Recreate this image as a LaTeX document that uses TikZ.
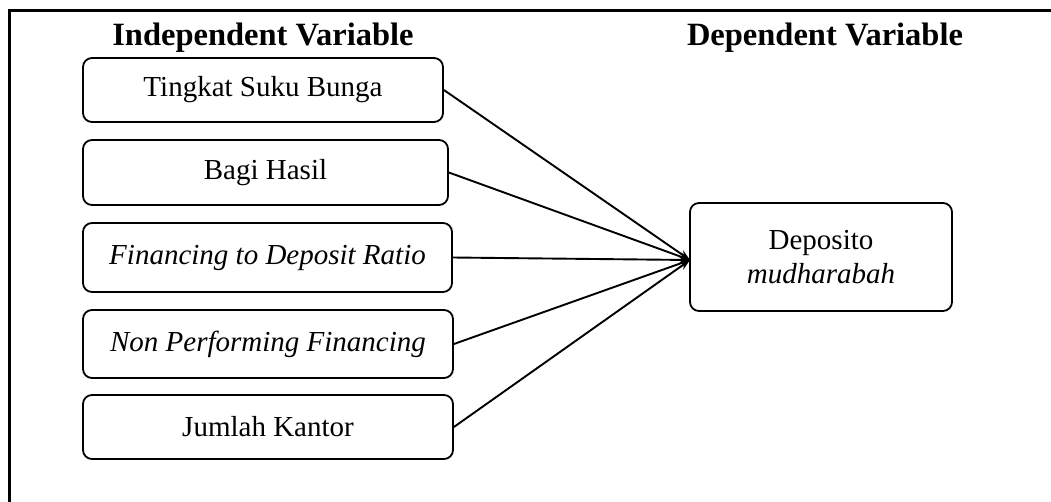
\documentclass[tikz,border=0pt]{standalone}
\usepackage{fontspec}
\setmainfont{Liberation Serif}
\usetikzlibrary{arrows.meta}
\begin{document}
\begin{tikzpicture}[x=1pt,y=-1pt,
  varbox/.style={draw, line width=1.8pt, rounded corners=9pt, inner sep=0pt,
    font=\fontsize{29}{34}\selectfont, align=center},
  head/.style={font=\fontsize{32.5}{38}\selectfont\bfseries, inner sep=0pt, anchor=base},
  link/.style={line width=1.9pt, -{Stealth[length=11pt,width=8pt]}}]
\useasboundingbox (0,0) rectangle (1051,501);
% frame
\coordinate (fTL) at (9,10);
\coordinate (fTR) at (1055,10);
\coordinate (fBL) at (9,505);
\draw[line width=3pt] (fBL) -- (fTL) -- (fTR);
% headers
\node[head] (hi) at (263,45) {Independent Variable};
\node[head] (hd) at (825,45) {Dependent Variable};
% independent boxes
\node[varbox, minimum width=360pt, minimum height=64pt] (b1) at (263,90) {Tingkat Suku Bunga};
\node[varbox, minimum width=365pt, minimum height=65pt] (b2) at (265.5,172.5) {Bagi Hasil};
\node[varbox, minimum width=369pt, minimum height=69pt] (b3) at (267.5,257.5) {\itshape Financing to Deposit Ratio};
\node[varbox, minimum width=370pt, minimum height=68pt] (b4) at (268,344) {\itshape Non Performing Financing};
\node[varbox, minimum width=370pt, minimum height=64pt] (b5) at (268,427) {Jumlah Kantor};
% dependent box
\node[varbox, minimum width=262pt, minimum height=108pt] (t) at (821,257) {Deposito\\\itshape mudharabah};
\coordinate (tip) at (690,260);
% connectors
\draw[link] (b1.east) -- (tip);
\draw[link] (b2.east) -- (tip);
\draw[link] (b3.east) -- (tip);
\draw[link] (b4.east) -- (tip);
\draw[link] (b5.east) -- (tip);
\end{tikzpicture}
\end{document}
